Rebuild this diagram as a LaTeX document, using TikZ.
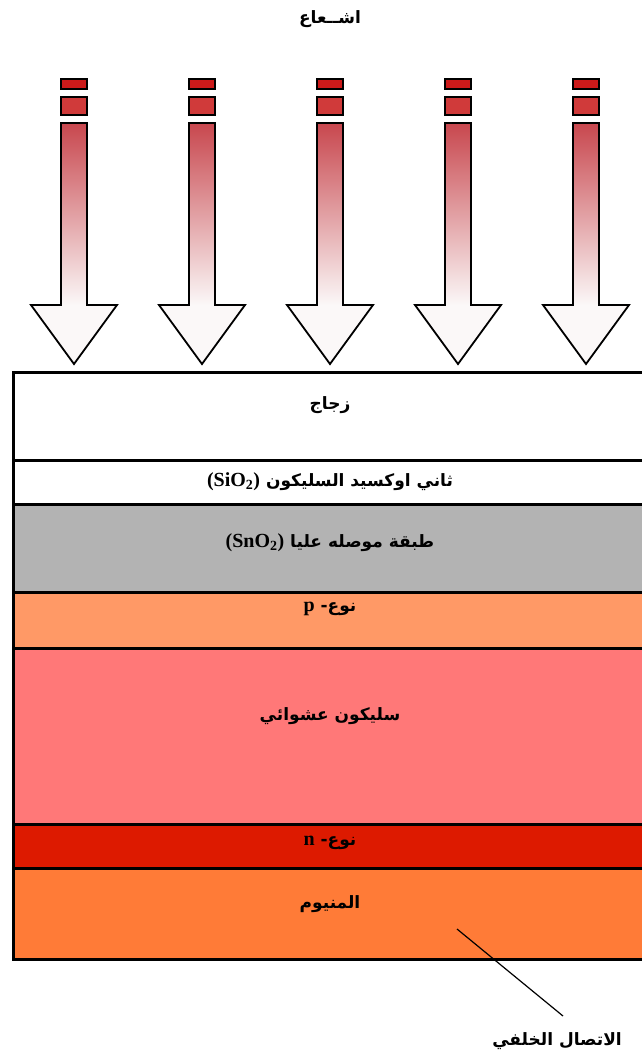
\documentclass[tikz,border=0pt]{standalone}
\usepackage{fontspec}
\setmainfont{Liberation Serif}
\newfontfamily\arabicfont[Script=Arabic]{DejaVu Sans}
\TeXXeTstate=1
\usepackage{xcolor}
\usepackage{tikz}
\usetikzlibrary{calc}
\definecolor{glass}{HTML}{FFFFFF}
\definecolor{tinox}{HTML}{B3B3B3}
\definecolor{ptype}{HTML}{FF9966}
\definecolor{amorph}{HTML}{FF7878}
\definecolor{ntype}{HTML}{DD1A00}
\definecolor{alum}{HTML}{FF7B37}
\definecolor{raydark}{HTML}{CC1A1A}
\definecolor{raymid}{HTML}{D03A3A}
\definecolor{raytop}{HTML}{C8474E}
\definecolor{raylow}{HTML}{FBF8F8}
\newcommand{\lat}[1]{{\fontsize{20}{22}\selectfont #1}}
\tikzset{
  layer/.style={draw=black, line width=3pt},
  ray/.style={draw=black, line width=1.8pt, line join=miter},
  lead/.style={draw=black, line width=1.2pt},
  lab/.style={font=\bfseries\fontsize{17}{20}\selectfont, inner sep=1pt},
}
\begin{document}
\begin{tikzpicture}[x=1pt,y=-1pt]
  \useasboundingbox (0,0) rectangle (642,1061);

  % layers
  \fill[glass]  (13,372) rectangle (645,460);
  \fill[glass]  (13,460) rectangle (645,504);
  \fill[tinox]  (13,504) rectangle (645,592);
  \fill[ptype]  (13,592) rectangle (645,648);
  \fill[amorph] (13,648) rectangle (645,824);
  \fill[ntype]  (13,824) rectangle (645,868);
  \fill[alum]   (13,868) rectangle (645,959);
  \foreach \y in {460,504,592,648,824,868}
    \draw[layer] (13,\y) -- (645,\y);
  \draw[layer] (645,372) -- (13,372) -- (13,959) -- (645,959);

  % incoming light
  \foreach \c in {74,202,330,458,586}{
    \fill[raydark] (\c-13,79) rectangle (\c+13,89);
    \draw[ray] (\c-13,79) rectangle (\c+13,89);
    \fill[raymid] (\c-13,97) rectangle (\c+13,115);
    \draw[ray] (\c-13,97) rectangle (\c+13,115);
    \fill[raylow] (\c-13,123) -- (\c+13,123) -- (\c+13,305) -- (\c+43,305)
      -- (\c,364) -- (\c-43,305) -- (\c-13,305) -- cycle;
    \shade[top color=raytop, bottom color=raylow] (\c-13,123) rectangle (\c+13,305);
    \draw[ray] (\c-13,123) -- (\c+13,123) -- (\c+13,305) -- (\c+43,305)
      -- (\c,364) -- (\c-43,305) -- (\c-13,305) -- cycle;
  }

  % labels
  \node[lab] (light) at (330,19) {\arabicfont\beginR اشــعاع\endR};
  \node[lab] (glasslab) at (330,405) {\arabicfont\beginR زجاج\endR};
  \node[lab] (sio) at (330,482) {\beginR{\arabicfont ثاني اوكسيد السليكون }\beginL\lat{(SiO\textsubscript{2})}\endL\endR};
  \node[lab] (sno) at (330,543) {\beginR{\arabicfont طبقة موصله عليا }\beginL\lat{(SnO\textsubscript{2})}\endL\endR};
  \node[lab] (plab) at (330,609) {\beginR{\arabicfont نوع- }\beginL\lat{p}\endL\endR};
  \node[lab] (amlab) at (330,716) {\arabicfont\beginR سليكون عشوائي\endR};
  \node[lab] (nlab) at (330,843) {\beginR{\arabicfont نوع- }\beginL\lat{n}\endL\endR};
  \node[lab] (allab) at (330,904) {\arabicfont\beginR المنيوم\endR};
  \node[lab] (backlab) at (557,1041) {\arabicfont\beginR الاتصال الخلفي\endR};

  % back contact pointer
  \coordinate (contact) at (457,929);
  \coordinate (tail) at (563,1016);
  \draw[lead] (contact) -- (tail);
\end{tikzpicture}
\end{document}
